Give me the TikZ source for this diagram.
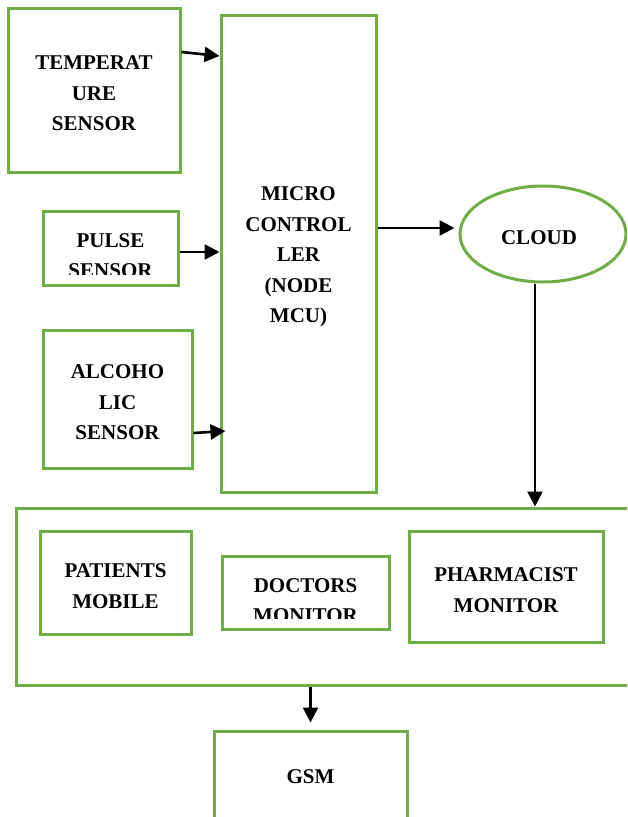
\documentclass[tikz,border=0pt]{standalone}
\usepackage{fontspec}
\setmainfont{Liberation Serif}
\usepackage{tikz}
\usetikzlibrary{arrows.meta, positioning, shapes.geometric}
\usepackage{xcolor}
\definecolor{boxgreen}{HTML}{70AD47}
\newcommand{\lbl}{\fontsize{21}{30.5}\selectfont\bfseries}
\newcommand{\topgap}{\rule{0pt}{21pt}}

\begin{document}
\begin{tikzpicture}[
  x=1pt, y=-1pt,
  block/.style={rectangle, draw=boxgreen, line width=3pt, inner sep=0pt, align=center, font=\lbl},
  cloudbox/.style={ellipse, draw=boxgreen, line width=3pt, inner sep=0pt, align=center, font=\lbl},
  flow/.style={line width=2.6pt, -{Triangle[length=15pt, width=15pt]}}
]
\useasboundingbox (0,0) rectangle (627,817);
\clip (0,0) rectangle (627,817);

% Controller in the middle
\node[block, minimum width=155pt, minimum height=477pt] (mcu) at (298.5,253.5) {\topgap MICRO\\CONTROL\\LER\\(NODE\\MCU)};

% Sensors on the left
\node[block, minimum width=172pt, minimum height=164pt] (temp) at (94,90) {\topgap TEMPERAT\\URE\\SENSOR};
\node[block, minimum width=135pt, minimum height=74pt,
  path picture={\clip (path picture bounding box.north west) rectangle ([yshift=11pt]path picture bounding box.south east);
    \node[font=\lbl, align=center] (pulsetext) at ([yshift=-7.5pt]path picture bounding box.center) {PULSE\\SENSOR};}
  ] (pulse) at (110.5,248) {};
\node[block, minimum width=149pt, minimum height=138pt] (alc) at (117.5,399) {\topgap ALCOHO\\LIC\\SENSOR};

% Cloud
\node[cloudbox, minimum width=166pt, minimum height=96pt] (cloud) at (543,234) {\hspace*{-8pt}\topgap CLOUD};

% Receivers group
\node[block, minimum width=644pt, minimum height=177pt] (group) at (338,596.5) {};
\node[block, minimum width=151pt, minimum height=103pt] (patient) at (115.5,582.5) {\topgap PATIENTS\\MOBILE};
\node[block, minimum width=167pt, minimum height=73pt,
  path picture={\clip (path picture bounding box.north west) rectangle ([yshift=11pt]path picture bounding box.south east);
    \node[font=\lbl, align=center] (doctext) at ([yshift=-8pt]path picture bounding box.center) {DOCTORS\\MONITOR};}
  ] (doctor) at (305.5,592.5) {};
\node[block, minimum width=194pt, minimum height=111pt] (pharma) at (506,586.5) {\topgap PHARMACIST\\MONITOR};

% GSM at the bottom
\node[block, minimum width=193pt, minimum height=92pt] (gsm) at (310.5,777) {GSM};

% Sensor connections
\draw[flow] ([yshift=38pt]temp.east) -- ([yshift=197.5pt]mcu.west);
\draw[flow] ([yshift=-4pt]pulse.east) -- ([yshift=1.5pt]mcu.west);
\draw[flow] ([yshift=-34pt]alc.east) -- ([xshift=6pt, yshift=-177.5pt]mcu.west);

% Controller to cloud
\draw[flow] ([yshift=25.5pt]mcu.east) -- ([xshift=-4pt, yshift=6pt]cloud.west);

% Cloud to receivers, receivers to GSM
\coordinate (down) at ([xshift=-8pt]cloud.south);
\draw[flow] (down) -- (down |- group.north);
\draw[flow] (gsm.north |- group.south) -- ([yshift=7pt]gsm.north);

\end{tikzpicture}
\end{document}
